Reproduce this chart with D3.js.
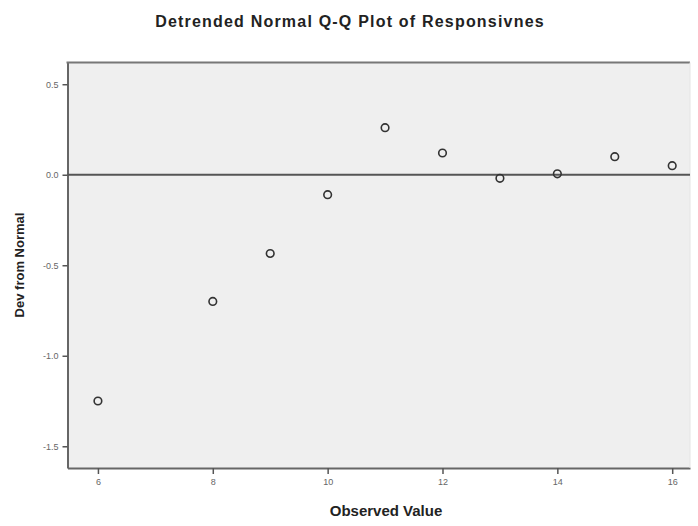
<!DOCTYPE html>
<html>
<head>
<meta charset="utf-8">
<script src="https://cdn.jsdelivr.net/npm/d3@7"></script>
<style>
body{margin:0;background:#fff;}
svg{display:block;}
</style>
</head>
<body>
<div id="chart"></div>
<script>
// observed values and deviation from normal
var observed = [6, 8, 9, 10, 11, 12, 13, 14, 15, 16];
var dev_normal = [-1.25, -0.70, -0.435, -0.11, 0.26, 0.12, -0.02, 0.005, 0.10, 0.05];
var x_ticks = [6, 8, 10, 12, 14, 16];
var y_ticks = [0.5, 0.0, -0.5, -1.0, -1.5];

var W = 698, H = 526;
var plot = {left:67.5, right:690, top:62.5, bottom:468};
var font = "Arial, 'Liberation Sans', sans-serif";

var svg = d3.select("#chart").append("svg")
	.attr("width", W).attr("height", H);

var x = d3.scaleLinear().domain([5.47, 16.31]).range([plot.left, plot.right]);
var y = d3.scaleLinear().domain([-1.62, 0.62]).range([plot.bottom, plot.top]);

// 背景
svg.append("rect")
	.attr("x", plot.left).attr("y", plot.top)
	.attr("width", plot.right-plot.left).attr("height", plot.bottom-plot.top)
	.attr("fill", "#efefef");

// 座標軸
var xAxis = svg.append("g")
	.attr("transform", "translate(0," + plot.bottom + ")")
	.call(d3.axisBottom(x).tickValues(x_ticks).tickSizeInner(6).tickSizeOuter(0).tickPadding(5)
		.tickFormat(function(d){return String(d);}));
var yAxis = svg.append("g")
	.attr("transform", "translate(" + plot.left + ",0)")
	.call(d3.axisLeft(y).tickValues(y_ticks).tickSizeInner(5).tickSizeOuter(0).tickPadding(4)
		.tickFormat(function(d){return d3.format(".1f")(d).replace("\u2212", "-");}));

[xAxis, yAxis].forEach(function(a){
	a.select(".domain").attr("stroke", "#666").attr("stroke-width", 2);
	a.selectAll(".tick line").attr("stroke", "#555").attr("stroke-width", 1.5);
	a.selectAll(".tick text").attr("fill", "#666").style("font-family", font).style("font-size", "9px");
});

// top border
svg.append("line")
	.attr("x1", plot.left-1).attr("x2", plot.right)
	.attr("y1", plot.top).attr("y2", plot.top)
	.attr("stroke", "#777").attr("stroke-width", 2);
svg.append("line")
	.attr("x1", plot.right).attr("x2", plot.right)
	.attr("y1", plot.top).attr("y2", plot.bottom)
	.attr("stroke", "#e4e4e4").attr("stroke-width", 1);

// 零線
svg.append("line")
	.attr("x1", plot.left).attr("x2", plot.right)
	.attr("y1", y(0)).attr("y2", y(0))
	.attr("stroke", "#555").attr("stroke-width", 2);

// 點
svg.append("g").selectAll("circle")
	.data(observed)
	.join("circle")
	.attr("cx", function(d){return x(d);})
	.attr("cy", function(d, i){return y(dev_normal[i]);})
	.attr("r", 3.8)
	.attr("fill", "none")
	.attr("stroke", "#333")
	.attr("stroke-width", 1.6);

// 文字
svg.append("text")
	.attr("x", 350).attr("y", 27)
	.attr("text-anchor", "middle")
	.style("font-family", font)
	.style("font-size", "16px")
	.style("font-weight", "bold")
	.style("letter-spacing", "1.2px")
	.attr("fill", "#222")
	.text("Detrended Normal Q-Q Plot of Responsivnes");

svg.append("text")
	.attr("x", 386).attr("y", 516)
	.attr("text-anchor", "middle")
	.style("font-family", font)
	.style("font-size", "15px")
	.style("font-weight", "bold")
	.attr("fill", "#222")
	.text("Observed Value");

svg.append("text")
	.attr("transform", "translate(24,265) rotate(-90)")
	.attr("text-anchor", "middle")
	.style("font-family", font)
	.style("font-size", "13px")
	.style("font-weight", "bold")
	.attr("fill", "#222")
	.text("Dev from Normal");
</script>
</body>
</html>
